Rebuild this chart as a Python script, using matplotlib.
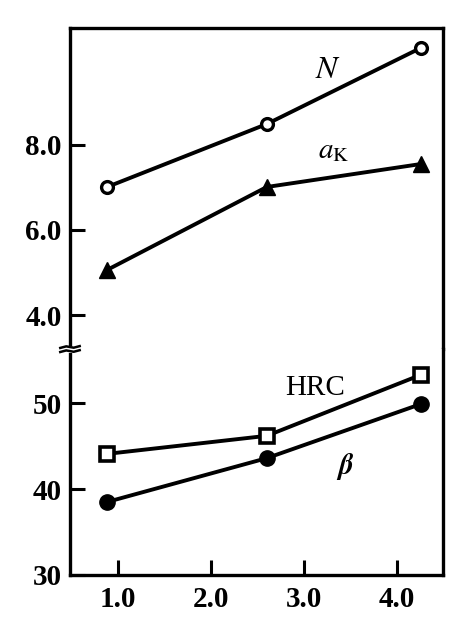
import matplotlib.pyplot as plt

plt.rcParams['font.family'] = ['Liberation Serif', 'DejaVu Serif']
plt.rcParams['mathtext.fontset'] = 'stix'

x_vals = [0.88, 2.60, 4.26]
N = [7.01, 8.49, 10.28]
aK = [5.06, 7.01, 7.55]
HRC = [44.1, 46.2, 53.3]
beta = [38.5, 43.6, 49.9]

xticks = [1.0, 2.0, 3.0, 4.0]
upper_ticks = [4.0, 6.0, 8.0]
lower_ticks = [30, 40, 50]

fig = plt.figure(figsize=(4.76, 6.2), dpi=100)
ax_top = fig.add_axes([0.147, 0.437, 0.784, 0.518])
ax_bot = fig.add_axes([0.147, 0.0726, 0.784, 0.3644])

lw = 2.8
ax_top.plot(x_vals, N, color='black', lw=lw, marker='o', ms=8.5,
            mfc='white', mec='black', mew=2.4)
ax_top.plot(x_vals, aK, color='black', lw=lw, marker='^', ms=12,
            mfc='black', mec='black')
ax_bot.plot(x_vals, HRC, color='black', lw=lw, marker='s', ms=10,
            mfc='white', mec='black', mew=2.6)
ax_bot.plot(x_vals, beta, color='black', lw=lw, marker='o', ms=11,
            mfc='black', mec='black')

ax_top.set_ylim(3.2, 10.75)
ax_bot.set_ylim(30, 56.3)
for ax in (ax_top, ax_bot):
    ax.set_xlim(0.48, 4.5)
    for s in ax.spines.values():
        s.set_linewidth(2.4)
    ax.tick_params(direction='in', length=11, width=2.2, labelsize=21, pad=6)
    ax.set_xticks(xticks)

ax_top.spines['bottom'].set_visible(False)
ax_bot.spines['top'].set_visible(False)
ax_top.tick_params(axis='x', bottom=False, labelbottom=False)
ax_top.set_yticks(upper_ticks)
ax_top.set_yticklabels(['%.1f' % t for t in upper_ticks], fontweight='bold')
ax_bot.set_yticks(lower_ticks)
ax_bot.set_yticklabels([str(t) for t in lower_ticks], fontweight='bold')
ax_bot.set_xticklabels(['%.1f' % t for t in xticks], fontweight='bold')
ax_bot.tick_params(axis='x', pad=8)

# curve labels
ax_top.text(3.12, 9.58, r'$N$', fontsize=23)
ax_top.text(3.15, 7.68, r'$a_{\rm K}$', fontsize=21)
ax_bot.text(2.8, 50.9, 'HRC', fontsize=21)
ax_bot.text(3.35, 41.8, r'$\boldsymbol{\beta}$', fontsize=21)

# axis break mark on left spine
ax_bot.plot([-0.028, 0.028], [1.0, 1.0], transform=ax_bot.transAxes,
            color='white', lw=5, clip_on=False, zorder=5)
for dy in (0.009, -0.009):
    ax_bot.plot([-0.026, -0.01, 0.01, 0.026],
                [1.0 + dy - 0.004, 1.0 + dy + 0.003, 1.0 + dy - 0.003, 1.0 + dy + 0.004],
                transform=ax_bot.transAxes, color='black', lw=1.8,
                clip_on=False, zorder=6)

fig.savefig('out.png', dpi=100)
